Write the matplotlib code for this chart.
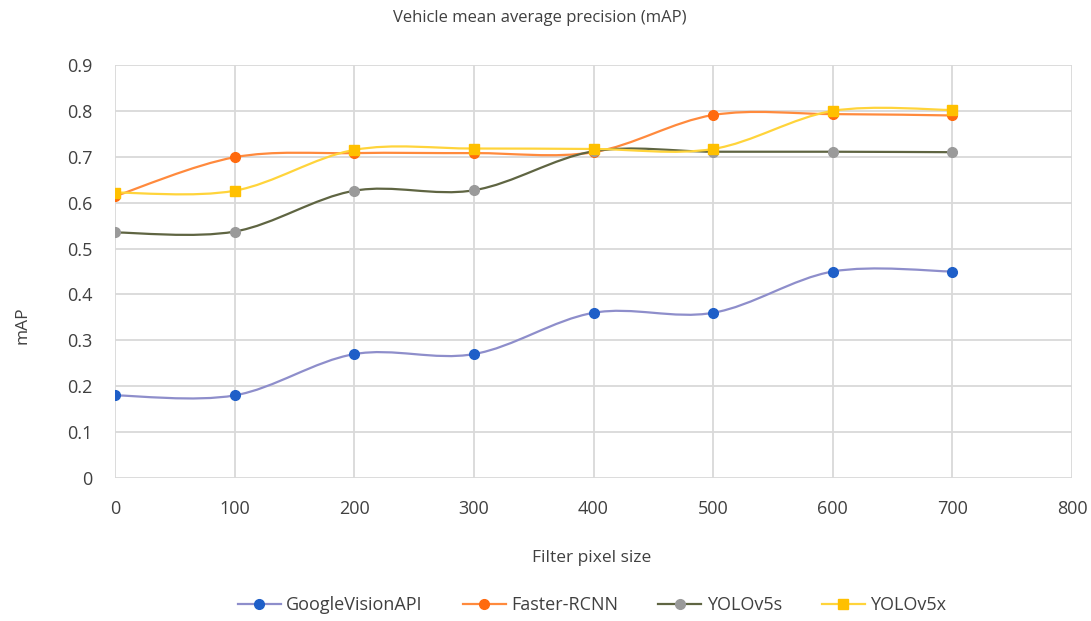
import matplotlib
matplotlib.use("Agg")
import matplotlib.pyplot as plt
from matplotlib.path import Path
from matplotlib.patches import PathPatch
from matplotlib.lines import Line2D

plt.rcParams['font.family'] = ['Open Sans', 'DejaVu Sans']

x_vals = [0, 100, 200, 300, 400, 500, 600, 700]
google = [0.18, 0.18, 0.27, 0.27, 0.36, 0.36, 0.45, 0.45]
faster = [0.614, 0.699, 0.708, 0.708, 0.71, 0.791, 0.793, 0.79]
yolo5s = [0.535, 0.537, 0.626, 0.627, 0.712, 0.711, 0.711, 0.71]
yolo5x = [0.622, 0.626, 0.715, 0.718, 0.717, 0.717, 0.80, 0.802]

series = [
    ("GoogleVisionAPI", google, '#8E8ECB', '#1F5FC8', 'o'),
    ("Faster-RCNN", faster, '#FF8A3D', '#FF6A0E', 'o'),
    ("YOLOv5s", yolo5s, '#5F6542', '#9A9A9A', 'o'),
    ("YOLOv5x", yolo5x, '#FFD43B', '#FFC000', 's'),
]

fig = plt.figure(figsize=(10.91, 6.21), dpi=100)
ax = fig.add_axes([115/1091, 1-478/621, (1072-115)/1091, (478-65)/621])

def smooth_path(xs, ys, t=1/6):
    n = len(xs)
    verts = [(xs[0], ys[0])]
    codes = [Path.MOVETO]
    for i in range(n - 1):
        x0, y0 = (xs[i-1], ys[i-1]) if i > 0 else (xs[i], ys[i])
        x1, y1 = xs[i], ys[i]
        x2, y2 = xs[i+1], ys[i+1]
        x3, y3 = (xs[i+2], ys[i+2]) if i + 2 < n else (xs[i+1], ys[i+1])
        c1 = (x1 + (x2 - x0) * t, y1 + (y2 - y0) * t)
        c2 = (x2 - (x3 - x1) * t, y2 - (y3 - y1) * t)
        verts += [c1, c2, (x2, y2)]
        codes += [Path.CURVE4] * 3
    return Path(verts, codes)

handles = []
for name, vals, lc, mc, mk in series:
    p = PathPatch(smooth_path(x_vals, vals), facecolor='none', edgecolor=lc, lw=1.6, zorder=3)
    ax.add_patch(p)
    ms = 7 if mk == 'o' else 7.5
    ax.plot(x_vals, vals, linestyle='none', marker=mk, markersize=ms, color=mc,
            markeredgecolor=mc, zorder=4)
    handles.append(Line2D([0], [0], color=lc, lw=1.6, marker=mk, markersize=ms,
                          markerfacecolor=mc, markeredgecolor=mc))

ax.set_xlim(0, 800)
ax.set_ylim(0, 0.9)
ax.set_xticks(range(0, 801, 100))
ax.set_yticks([i / 10 for i in range(10)])
ax.set_yticklabels(['0'] + [f'{i/10:.1f}' for i in range(1, 10)])
ax.grid(True, color='#D9D9D9', lw=1.3)
ax.set_axisbelow(True)
for s in ax.spines.values():
    s.set_visible(False)
ax.tick_params(length=0, labelsize=13, colors='#404040', pad=16)

fig.text(540/1091, 1-18/621, 'Vehicle mean average precision (mAP)', ha='center', va='center',
         fontsize=12, color='#404040')
fig.text(592/1091, 1-558/621, 'Filter pixel size', ha='center', va='center', fontsize=12.5, color='#404040')
fig.text(22/1091, 1-325/621, 'mAP', ha='center', va='center', rotation=90, fontsize=12.5, color='#404040')

fig.legend(handles, [s[0] for s in series], loc='center', bbox_to_anchor=(592/1091, 1-605/621),
           ncol=4, frameon=False, fontsize=13, handlelength=2.4, columnspacing=2.2,
           handletextpad=0.3, labelcolor='#404040')

fig.savefig('out.png', dpi=100)
